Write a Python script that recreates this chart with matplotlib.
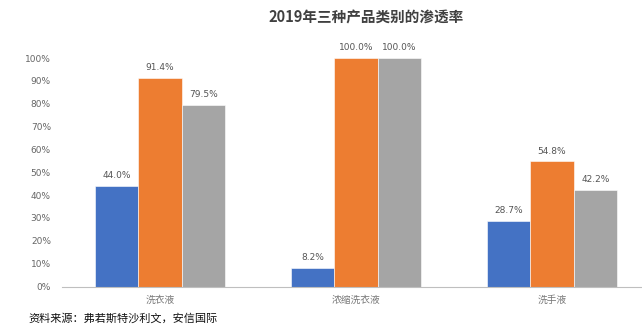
import matplotlib.pyplot as plt
import numpy as np

plt.rcParams['font.family'] = ['Noto Sans CJK SC', 'DejaVu Sans']

categories = ['洗衣液', '浓缩洗衣液', '洗手液']
series_a = [44.0, 8.2, 28.7]
series_b = [91.4, 100.0, 54.8]
series_c = [79.5, 100.0, 42.2]
yticks = [0, 10, 20, 30, 40, 50, 60, 70, 80, 90, 100]

colors = ['#4472C4', '#ED7D31', '#A5A5A5']

fig = plt.figure(figsize=(6.42, 3.27), dpi=100)
ax = fig.add_axes([62 / 642, 40.5 / 327, 580 / 642, 228.5 / 327])

x = np.arange(len(categories))
w = 0.222
for i, (vals, c) in enumerate(zip([series_a, series_b, series_c], colors)):
    pos = x + (i - 1) * w
    ax.bar(pos, vals, width=w, color=c, edgecolor='white', linewidth=0.4)
    for p, v in zip(pos, vals):
        ax.text(p, v + 2.5, f'{v:.1f}%', ha='center', va='bottom',
                fontsize=6.5, color='#555555', family='DejaVu Sans')

ax.set_xlim(-0.5, 2.459)
ax.set_ylim(0, 100)
ax.set_yticks(yticks)
ax.set_yticklabels([f'{t}%' for t in yticks], fontsize=6.5, color='#666666',
                   family='DejaVu Sans')
ax.set_xticks(x)
ax.set_xticklabels(categories, fontsize=7, color='#777777')
ax.tick_params(axis='both', length=0)
ax.tick_params(axis='y', pad=8)
ax.tick_params(axis='x', pad=6)

for s in ['top', 'right', 'left']:
    ax.spines[s].set_visible(False)
ax.spines['bottom'].set_color('#BFBFBF')
ax.spines['bottom'].set_linewidth(0.8)

fig.text(366 / 642, 1 - 18 / 327, '2019年三种产品类别的渗透率', ha='center', va='center',
         fontsize=10.5, fontweight='bold', color='#404040')
fig.text(28 / 642, 1 - 318 / 327, '资料来源：弗若斯特沙利文，安信国际', ha='left', va='center',
         fontsize=8, color='#111111', style='italic')

fig.savefig('out.png', dpi=100)
